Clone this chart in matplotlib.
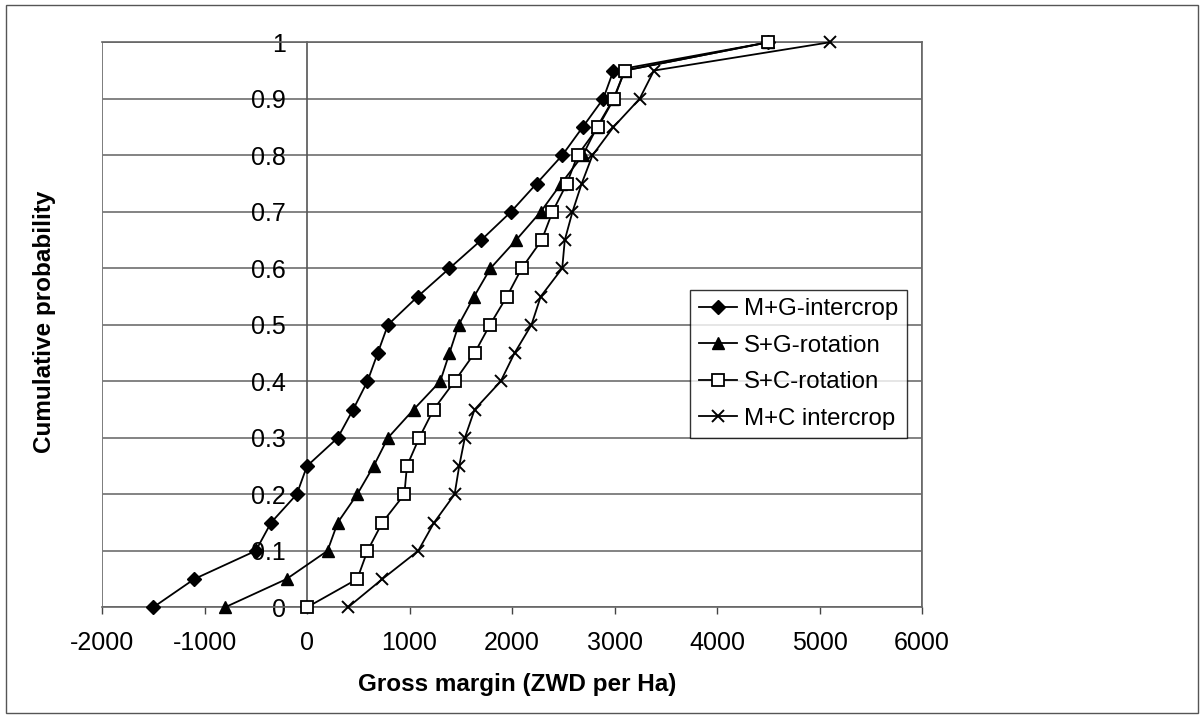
import matplotlib
matplotlib.use("Agg")
import matplotlib.pyplot as plt
from matplotlib.patches import Rectangle

plt.rcParams['font.family'] = ['Liberation Sans', 'DejaVu Sans']

# ---- data ----
probability = [0.00, 0.05, 0.10, 0.15, 0.20, 0.25, 0.30, 0.35, 0.40, 0.45, 0.50,
               0.55, 0.60, 0.65, 0.70, 0.75, 0.80, 0.85, 0.90, 0.95, 1.00]
mg_intercrop = [-1500, -1100, -500, -350, -100, 0, 300, 450, 590, 690, 790,
                1080, 1390, 1700, 1990, 2240, 2490, 2690, 2890, 2990, 4500]
sg_rotation = [-800, -200, 200, 300, 490, 650, 790, 1040, 1300, 1390, 1480,
               1630, 1790, 2040, 2280, 2480, 2690, 2830, 2990, 3100, 4500]
sc_rotation = [0, 490, 590, 735, 950, 975, 1095, 1235, 1440, 1635, 1785,
               1950, 2095, 2290, 2395, 2535, 2640, 2840, 2995, 3100, 4500]
mc_intercrop = [400, 735, 1085, 1240, 1440, 1485, 1540, 1635, 1890, 2025, 2190,
                2280, 2490, 2515, 2590, 2680, 2785, 2990, 3245, 3385, 5100]
series_names = ["M+G-intercrop", "S+G-rotation", "S+C-rotation", "M+C intercrop"]
x_ticks = [-2000, -1000, 0, 1000, 2000, 3000, 4000, 5000, 6000]
y_ticks = [0, 0.1, 0.2, 0.3, 0.4, 0.5, 0.6, 0.7, 0.8, 0.9, 1.0]
y_tick_labels = ["0", "0.1", "0.2", "0.3", "0.4", "0.5", "0.6", "0.7", "0.8", "0.9", "1"]

W, H = 1202, 719
fig = plt.figure(figsize=(W / 100, H / 100), dpi=100)
fig.patch.set_facecolor("white")

# outer chart frame
fig.add_artist(Rectangle((6 / W, 1 - 713 / H), (1198 - 6) / W, (713 - 5) / H,
                         transform=fig.transFigure, fill=False,
                         edgecolor="#555555", linewidth=1.0))

L, R, T, B = 102, 922, 42.3, 607.3
ax = fig.add_axes([L / W, 1 - B / H, (R - L) / W, (B - T) / H])
ax.set_xlim(-2000, 6000)
ax.set_ylim(0, 1)

# gridlines
ax.set_yticks(y_ticks)
ax.set_yticklabels(y_tick_labels)
ax.yaxis.grid(True, color="#7a7a7a", linewidth=1.3)
ax.set_axisbelow(True)

styles = [
    dict(marker="D", markersize=7, markerfacecolor="black", markeredgecolor="black"),
    dict(marker="^", markersize=9, markerfacecolor="black", markeredgecolor="black"),
    dict(marker="s", markersize=9, markerfacecolor="white", markeredgecolor="black",
         markeredgewidth=1.3),
    dict(marker="x", markersize=9, markeredgecolor="black", markeredgewidth=1.4),
]
for vals, name, st in zip([mg_intercrop, sg_rotation, sc_rotation, mc_intercrop],
                          series_names, styles):
    ax.plot(vals, probability, color="black", linewidth=1.3, label=name,
            clip_on=False, zorder=3, **st)

# spines: left spine crosses at x = 0
for s in ["top", "right", "bottom"]:
    ax.spines[s].set_color("#666666")
    ax.spines[s].set_linewidth(1.2)
ax.spines["left"].set_position(("data", 0))
ax.spines["left"].set_color("#555555")
ax.spines["left"].set_linewidth(1.2)
ax.add_patch(Rectangle((0, 0), 1, 1, transform=ax.transAxes, fill=False,
                       edgecolor="#666666", linewidth=1.2, zorder=0.5))

ax.set_xticks(x_ticks)
ax.set_xticklabels([str(v) for v in x_ticks])
ax.tick_params(axis="x", direction="out", length=5, width=1.0, pad=12,
               labelsize=18, color="#444444")
ax.tick_params(axis="y", length=0, pad=15, labelsize=18)

ax.set_xlabel("Gross margin (ZWD per Ha)", fontsize=17.5, fontweight="bold")
ax.xaxis.set_label_coords((517 - L) / (R - L), (B - 685) / (B - T))
ax.xaxis.label.set_va("center")
ax.set_ylabel("Cumulative probability", fontsize=17.5, fontweight="bold")
ax.yaxis.set_label_coords((45 - L) / (R - L), (B - 322) / (B - T))
ax.yaxis.label.set_va("center")

leg = ax.legend(loc="upper right",
                bbox_to_anchor=((907 - L) / (R - L), (B - 290) / (B - T)),
                borderaxespad=0, fontsize=17.3, frameon=True, fancybox=False,
                edgecolor="black", handlelength=1.6, handletextpad=0.3,
                labelspacing=0.6, borderpad=0.35)
leg.get_frame().set_linewidth(1.0)

fig.savefig("out.png", dpi=100, facecolor="white")
